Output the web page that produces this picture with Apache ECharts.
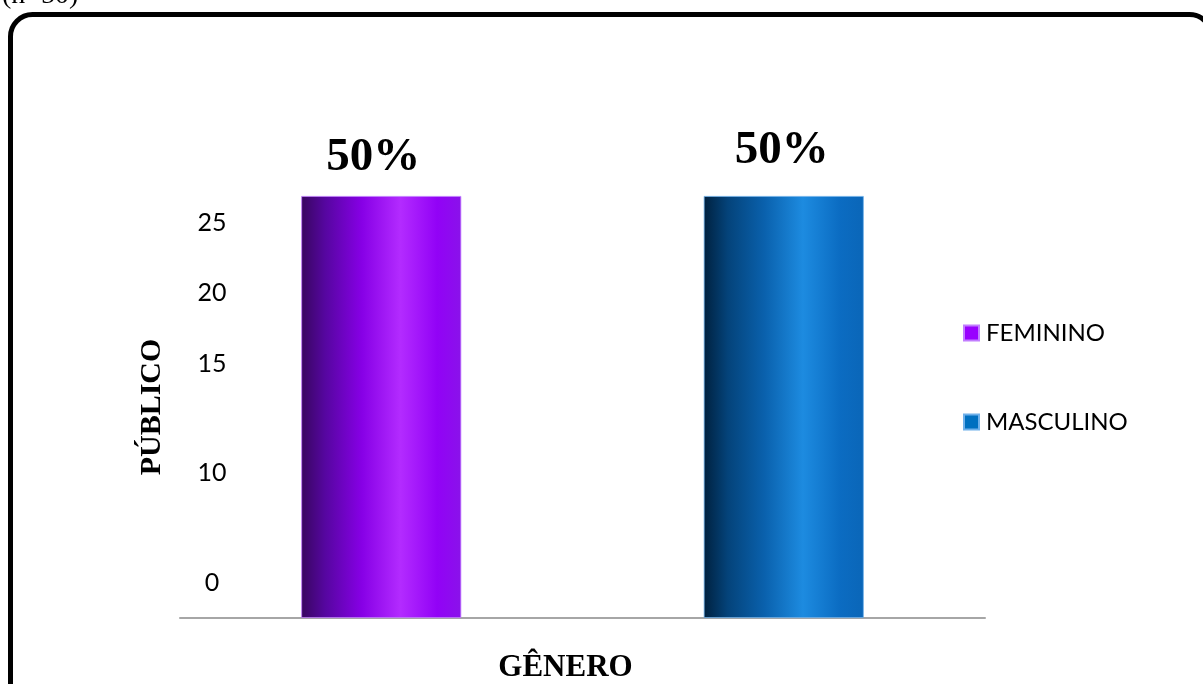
<!DOCTYPE html>
<html>
<head>
<meta charset="utf-8">
<script src="https://cdn.jsdelivr.net/npm/echarts@6/dist/echarts.min.js"></script>
<style>
  html, body { margin: 0; padding: 0; background: #fff; }
  #chart { width: 1203px; height: 684px; }
</style>
</head>
<body>
<div id="chart"></div>
<script>
// Gender breakdown of the surveyed public (n = 50)
const categories = ['FEMININO', 'MASCULINO'];
const femininoValues = [25, null];
const masculinoValues = [null, 25];
const shareLabels = ['50%', '50%'];

// Y axis: printed tick texts and the axis values they sit on
const tickLabels = ['0', '10', '15', '20', '25'];
const tickValues = [2.1, 8.6, 15.05, 19.25, 23.4];

const serif = '"Liberation Serif", "Times New Roman", serif';
const sans = 'Lato, "Open Sans", sans-serif';

function grad(stops) {
  return new echarts.graphic.LinearGradient(0, 0, 1, 0,
    stops.map(s => ({ offset: s[0], color: s[1] })));
}

const purple = grad([[0, '#38065f'], [0.15, '#5606a0'], [0.38, '#8700e6'],
  [0.62, '#b32bff'], [0.85, '#9202f6'], [1, '#8a12ea']]);
const blue = grad([[0, '#00213f'], [0.15, '#04437a'], [0.38, '#0a61ad'],
  [0.62, '#1d8be0'], [0.85, '#0b6cc2'], [1, '#0a66b8']]);

function valueLabel(idx) {
  return {
    show: true,
    position: 'top',
    distance: 16,
    formatter: () => shareLabels[idx],
    fontFamily: serif,
    fontWeight: 'bold',
    fontSize: 47,
    color: '#000'
  };
}

const chart = echarts.init(document.getElementById('chart'), null, { renderer: 'canvas' });

chart.setOption({
  backgroundColor: '#fff',
  animation: false,
  grid: { left: 180, right: 218, top: 196, bottom: 66, outerBoundsMode: 'none', containLabel: false },
  legend: {
    orient: 'vertical',
    left: 958,
    top: 316,
    itemWidth: 15,
    itemHeight: 15,
    itemGap: 65,
    icon: 'rect',
    textStyle: { fontFamily: sans, fontSize: 24, color: '#000', padding: [0, 0, 0, 2] },
    data: [
      { name: 'FEMININO', itemStyle: { color: '#9900ff' } },
      { name: 'MASCULINO', itemStyle: { color: '#0070c0' } }
    ]
  },
  xAxis: {
    type: 'category',
    data: categories,
    name: 'GÊNERO',
    nameLocation: 'middle',
    nameGap: 34,
    nameTextStyle: {
      fontFamily: serif, fontWeight: 'bold', fontSize: 31, color: '#000',
      padding: [0, 34, 0, 0]
    },
    axisLine: { lineStyle: { color: '#a6a6a6', width: 2 } },
    axisTick: { show: false },
    axisLabel: { show: false }
  },
  yAxis: {
    type: 'value',
    min: 0,
    max: 25,
    offset: -32,
    name: 'PÚBLICO',
    nameLocation: 'middle',
    nameGap: 45,
    nameTextStyle: { fontFamily: serif, fontWeight: 'bold', fontSize: 30, color: '#000' },
    axisLine: { show: false },
    axisTick: { show: false },
    splitLine: { show: false },
    axisLabel: {
      customValues: tickValues,
      formatter: v => {
        const i = tickValues.indexOf(v);
        return i >= 0 ? tickLabels[i] : '';
      },
      align: 'center',
      margin: 0,
      fontFamily: sans,
      fontSize: 25,
      color: '#000'
    }
  },
  series: [
    {
      name: 'FEMININO',
      type: 'bar',
      barWidth: 160,
      barGap: '-100%',
      data: femininoValues.map(v => v == null ? '-' : v),
      itemStyle: { color: purple, borderColor: '#c27dff', borderWidth: 0.8 },
      label: valueLabel(0),
      labelLayout: { dx: -8, dy: 1 }
    },
    {
      name: 'MASCULINO',
      type: 'bar',
      barWidth: 160,
      data: masculinoValues.map(v => v == null ? '-' : v),
      itemStyle: { color: blue, borderColor: '#6fb0ea', borderWidth: 0.8 },
      label: valueLabel(1),
      labelLayout: { dx: -2, dy: -6 }
    }
  ],
  graphic: [
    {
      type: 'rect',
      shape: { x: 10.5, y: 14.5, width: 1201, height: 700, r: 22 },
      style: { fill: 'none', stroke: '#000', lineWidth: 5 },
      silent: true
    },
    {
      type: 'text',
      left: 2,
      top: -18,
      style: { text: '(n=50)', font: '28px ' + serif, fill: '#000' },
      silent: true
    }
  ]
});
</script>
</body>
</html>
